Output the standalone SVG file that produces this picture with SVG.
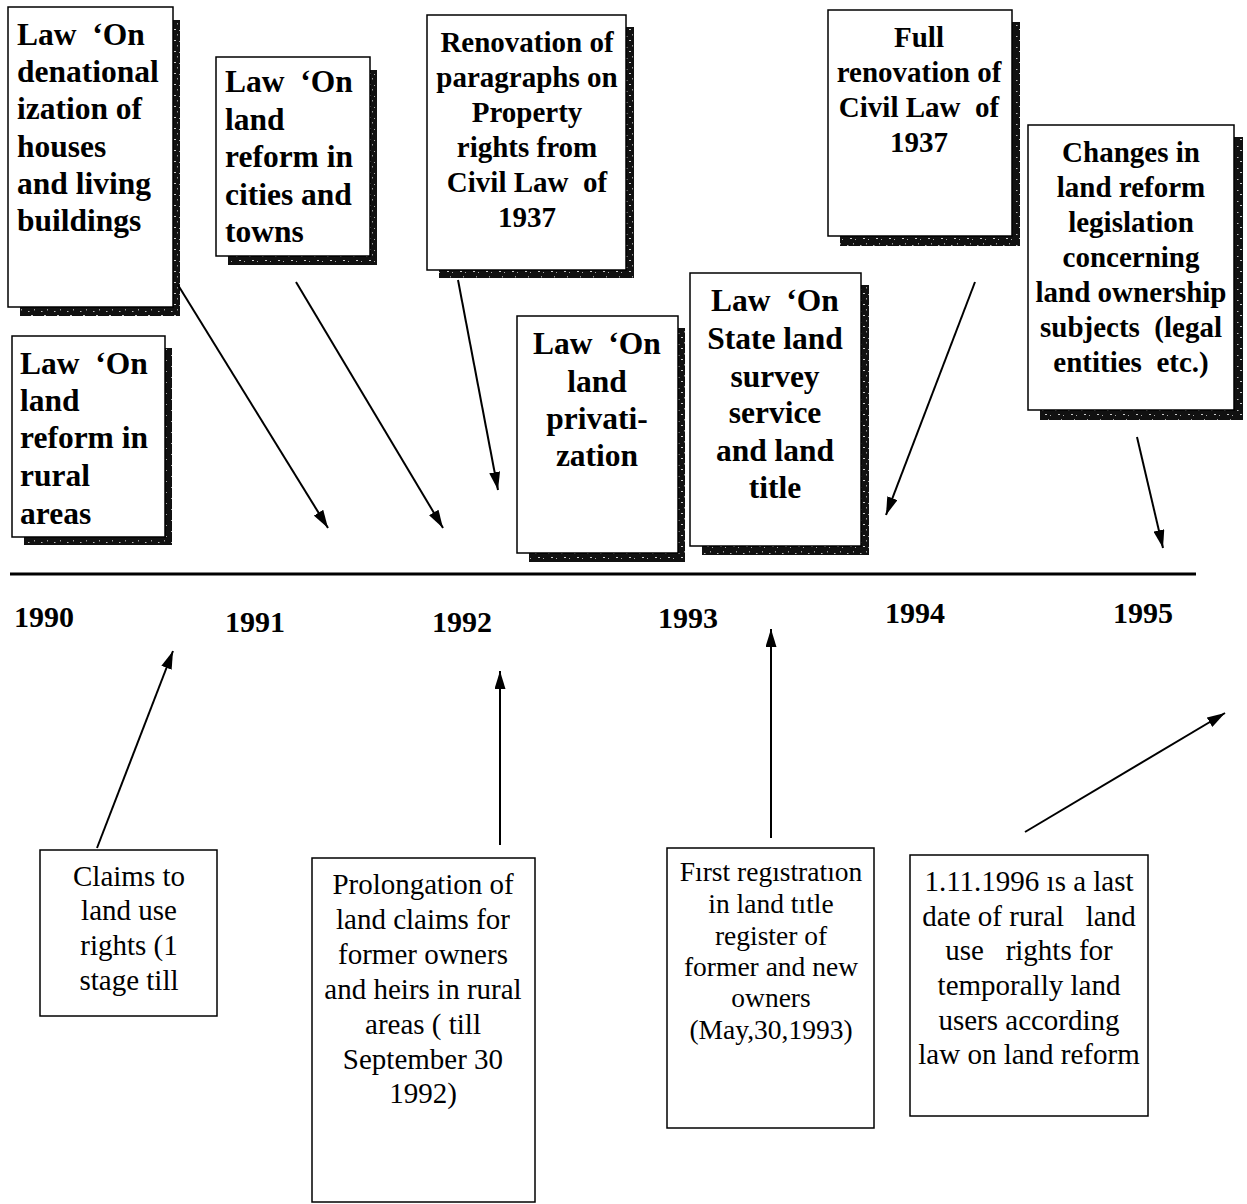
<svg xmlns="http://www.w3.org/2000/svg" width="1247" height="1204" viewBox="0 0 1247 1204">
<style>
.box{fill:#fff;stroke:#000;stroke-width:1.5}
.sh{fill:url(#speck)}
.b{font-family:"Liberation Serif","Times New Roman",serif;font-weight:bold;font-size:31.5px;fill:#000;white-space:pre}
.b2{font-family:"Liberation Serif","Times New Roman",serif;font-weight:bold;font-size:29px;fill:#000;white-space:pre}
.r{font-family:"Liberation Serif","Times New Roman",serif;font-size:29px;fill:#000;white-space:pre}
.r2{font-family:"Liberation Serif","Times New Roman",serif;font-size:27.5px;fill:#000;white-space:pre}
.c{text-anchor:middle}
.yr{font-family:"Liberation Serif","Times New Roman",serif;font-weight:bold;font-size:30px;fill:#000}
.ln{stroke:#000;stroke-width:2;fill:none}
</style>
<defs>
<pattern id="speck" width="13" height="11" patternUnits="userSpaceOnUse">
<rect width="13" height="11" fill="#111"/>
<rect x="2" y="3" width="1.5" height="1" fill="#bbb"/>
<rect x="8" y="1" width="1" height="1.5" fill="#999"/>
<rect x="5" y="7" width="2" height="1" fill="#ccc"/>
<rect x="10" y="8" width="1" height="1" fill="#aaa"/>
</pattern>
<marker id="ahL" viewBox="0 0 10 10" refX="10" refY="5" markerWidth="18" markerHeight="11" markerUnits="userSpaceOnUse" orient="auto" preserveAspectRatio="none">
<path d="M0,0 L10,5 L0,10 z" fill="#000"/>
</marker>
</defs>

<g id="nodeA">
<rect class="sh" x="173" y="20" width="7" height="296"/><rect class="sh" x="20" y="307" width="160" height="9"/>
<rect class="box" x="8" y="7" width="165" height="300"/>
<text class="b" x="17" y="45">Law  ‘On</text>
<text class="b" x="17" y="82">denational</text>
<text class="b" x="17" y="119">ization of</text>
<text class="b" x="17" y="157">houses</text>
<text class="b" x="17" y="194">and living</text>
<text class="b" x="17" y="231">buildings</text>
</g>

<g id="nodeRural">
<rect class="sh" x="165" y="348" width="7" height="197"/><rect class="sh" x="24" y="537" width="148" height="8"/>
<rect class="box" x="12" y="336" width="153" height="201"/>
<text class="b" x="20" y="374">Law  ‘On</text>
<text class="b" x="20" y="411">land</text>
<text class="b" x="20" y="448">reform in</text>
<text class="b" x="20" y="486">rural</text>
<text class="b" x="20" y="524">areas</text>
</g>

<g id="nodeB">
<rect class="sh" x="370" y="70" width="7" height="195"/><rect class="sh" x="228" y="256" width="149" height="9"/>
<rect class="box" x="216" y="57" width="154" height="199"/>
<text class="b" x="225" y="92">Law  ‘On</text>
<text class="b" x="225" y="130">land</text>
<text class="b" x="225" y="167">reform in</text>
<text class="b" x="225" y="205">cities and</text>
<text class="b" x="225" y="242">towns</text>
</g>

<g id="nodeRenov">
<rect class="sh" x="626" y="27" width="8" height="251"/><rect class="sh" x="439" y="270" width="195" height="8"/>
<rect class="box" x="427" y="15" width="199" height="255"/>
<text class="b2 c" x="527" y="52">Renovation of</text>
<text class="b2 c" x="527" y="87">paragraphs on</text>
<text class="b2 c" x="527" y="122">Property</text>
<text class="b2 c" x="527" y="157">rights from</text>
<text class="b2 c" x="527" y="192">Civil Law  of</text>
<text class="b2 c" x="527" y="227">1937</text>
</g>

<g id="nodePriv">
<rect class="sh" x="678" y="328" width="7" height="234"/><rect class="sh" x="529" y="553" width="156" height="9"/>
<rect class="box" x="517" y="316" width="161" height="237"/>
<text class="b c" x="597" y="354">Law  ‘On</text>
<text class="b c" x="597" y="392">land</text>
<text class="b c" x="597" y="429">privati-</text>
<text class="b c" x="597" y="466">zation</text>
</g>

<g id="nodeState">
<rect class="sh" x="861" y="285" width="8" height="270"/><rect class="sh" x="702" y="546" width="167" height="9"/>
<rect class="box" x="690" y="273" width="171" height="273"/>
<text class="b c" x="775" y="311">Law  ‘On</text>
<text class="b c" x="775" y="349">State land</text>
<text class="b c" x="775" y="387">survey</text>
<text class="b c" x="775" y="423">service</text>
<text class="b c" x="775" y="461">and land</text>
<text class="b c" x="775" y="498">title</text>
</g>

<g id="nodeFull">
<rect class="sh" x="1012" y="22" width="8" height="224"/><rect class="sh" x="840" y="236" width="180" height="10"/>
<rect class="box" x="828" y="10" width="184" height="226"/>
<text class="b2 c" x="919" y="47">Full</text>
<text class="b2 c" x="919" y="82">renovation of</text>
<text class="b2 c" x="919" y="117">Civil Law  of</text>
<text class="b2 c" x="919" y="152">1937</text>
</g>

<g id="nodeChanges">
<rect class="sh" x="1234" y="137" width="9" height="283"/><rect class="sh" x="1040" y="410" width="203" height="10"/>
<rect class="box" x="1028" y="125" width="206" height="285"/>
<text class="b2 c" x="1131" y="162">Changes in</text>
<text class="b2 c" x="1131" y="197">land reform</text>
<text class="b2 c" x="1131" y="232">legislation</text>
<text class="b2 c" x="1131" y="267">concerning</text>
<text class="b2 c" x="1131" y="302">land ownership</text>
<text class="b2 c" x="1131" y="337">subjects  (legal</text>
<text class="b2 c" x="1131" y="372">entities  etc.)</text>
</g>

<g id="timeline">
<line x1="10" y1="574" x2="1196" y2="574" stroke="#000" stroke-width="3"/>
<text class="yr" x="14" y="627">1990</text>
<text class="yr" x="225" y="632">1991</text>
<text class="yr" x="432" y="632">1992</text>
<text class="yr" x="658" y="628">1993</text>
<text class="yr" x="885" y="623">1994</text>
<text class="yr" x="1113" y="623">1995</text>
</g>

<g id="nodeClaims">
<rect class="box" x="40" y="850" width="177" height="166"/>
<text class="r c" x="129" y="886">Claims to</text>
<text class="r c" x="129" y="920">land use</text>
<text class="r c" x="129" y="955">rights (1</text>
<text class="r c" x="129" y="990">stage till</text>
</g>

<g id="nodeProlong">
<rect class="box" x="312" y="858" width="223" height="344"/>
<text class="r c" x="423" y="894">Prolongation of</text>
<text class="r c" x="423" y="929">land claims for</text>
<text class="r c" x="423" y="964">former owners</text>
<text class="r c" x="423" y="999">and heirs in rural</text>
<text class="r c" x="423" y="1034">areas ( till</text>
<text class="r c" x="423" y="1069">September 30</text>
<text class="r c" x="423" y="1103">1992)</text>
</g>

<g id="nodeFirst">
<rect class="box" x="667" y="848" width="207" height="280"/>
<text class="r2 c" x="771" y="881">Fırst regıstratıon</text>
<text class="r2 c" x="771" y="913">in land tıtle</text>
<text class="r2 c" x="771" y="945">register of</text>
<text class="r2 c" x="771" y="976">former and new</text>
<text class="r2 c" x="771" y="1007">owners</text>
<text class="r2 c" x="771" y="1039">(May,30,1993)</text>
</g>

<g id="nodeLast">
<rect class="box" x="910" y="855" width="238" height="261"/>
<text class="r c" x="1029" y="891">1.11.1996 ıs a last</text>
<text class="r c" x="1029" y="926">date of rural   land</text>
<text class="r c" x="1029" y="960">use   rights for</text>
<text class="r c" x="1029" y="995">temporally land</text>
<text class="r c" x="1029" y="1030">users according</text>
<text class="r c" x="1029" y="1064">law on land reform</text>
</g>

<g id="connectors">
<line class="ln" x1="178" y1="285" x2="328" y2="528" marker-end="url(#ahL)"/>
<line class="ln" x1="296" y1="282" x2="443" y2="528" marker-end="url(#ahL)"/>
<line class="ln" x1="458" y1="280" x2="498" y2="490" marker-end="url(#ahL)"/>
<line class="ln" x1="975" y1="282" x2="886" y2="515" marker-end="url(#ahL)"/>
<line class="ln" x1="1137" y1="437" x2="1163" y2="548" marker-end="url(#ahL)"/>
<line class="ln" x1="97" y1="848" x2="173" y2="651" stroke-width="4" marker-end="url(#ahL)"/>
<line class="ln" x1="500" y1="845" x2="500" y2="671" marker-end="url(#ahL)"/>
<line class="ln" x1="771" y1="838" x2="771" y2="629" marker-end="url(#ahL)"/>
<line class="ln" x1="1025" y1="832" x2="1225" y2="713" stroke-width="2.5" marker-end="url(#ahL)"/>
</g>
</svg>
